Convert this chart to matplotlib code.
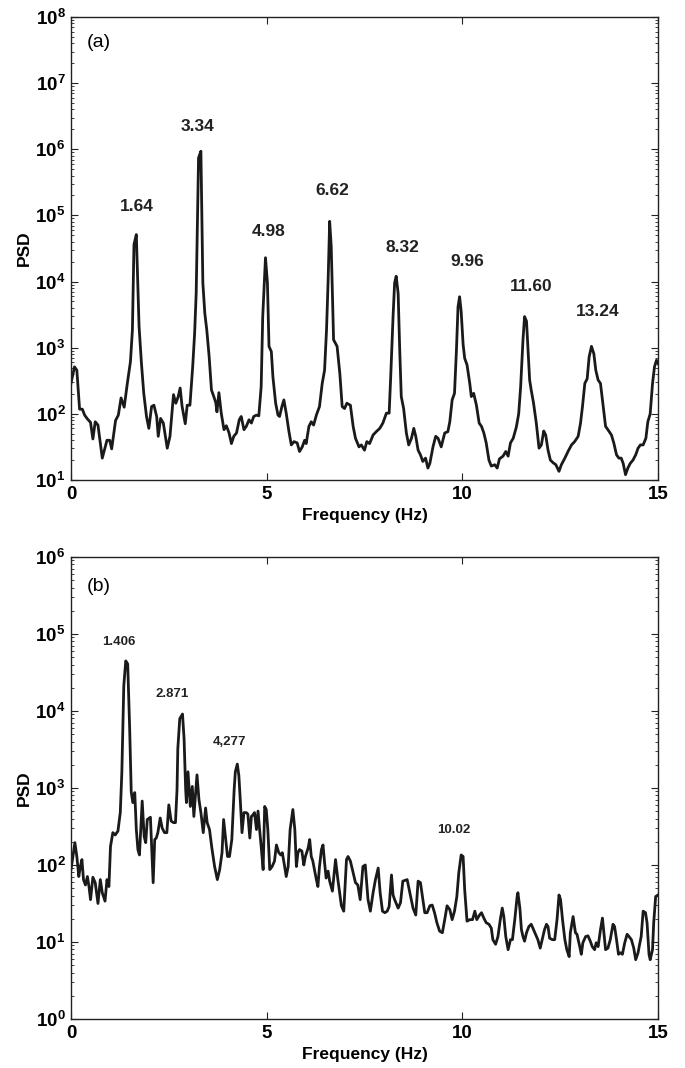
import numpy as np
import matplotlib
matplotlib.use("Agg")
import matplotlib.pyplot as plt
from matplotlib.ticker import LogLocator, NullFormatter, FixedLocator

plt.rcParams['font.family'] = ['Liberation Sans', 'DejaVu Sans']
plt.rcParams['mathtext.fontset'] = 'custom'
plt.rcParams['mathtext.rm'] = 'Liberation Sans:bold'
plt.rcParams['mathtext.bf'] = 'Liberation Sans:bold'
plt.rcParams['mathtext.it'] = 'Liberation Sans:bold'

# ---------------- Panel (a) data: frequency (Hz) and log10(PSD) ----------------
freq_a = [0.00, 0.09, 0.15, 0.22, 0.29, 0.35, 0.41, 0.50, 0.56, 0.62, 0.69, 0.80, 0.92, 0.99,
          1.04, 1.14, 1.21, 1.28, 1.36, 1.44, 1.52, 1.57, 1.61, 1.67, 1.74, 1.80, 1.86, 1.93,
          1.99, 2.06, 2.12, 2.19, 2.23, 2.29, 2.36, 2.46, 2.53, 2.62, 2.68, 2.74, 2.79, 2.84,
          2.92, 2.97, 3.04, 3.11, 3.16, 3.20, 3.26, 3.32, 3.37, 3.42, 3.47, 3.53, 3.59, 3.65,
          3.70, 3.73, 3.78, 3.84, 3.91, 3.97, 4.04, 4.10, 4.16, 4.23, 4.30, 4.35, 4.42, 4.48,
          4.55, 4.61, 4.67, 4.74, 4.80, 4.86, 4.90, 4.97, 5.02, 5.06, 5.12, 5.16, 5.23, 5.29,
          5.33, 5.39, 5.44, 5.50, 5.57, 5.63, 5.70, 5.78, 5.84, 5.91, 5.97, 6.01, 6.08, 6.14,
          6.20, 6.27, 6.35, 6.42, 6.48, 6.53, 6.57, 6.61, 6.65, 6.71, 6.80, 6.87, 6.93, 6.99,
          7.05, 7.14, 7.21, 7.27, 7.36, 7.42, 7.50, 7.56, 7.63, 7.72, 7.80, 7.89, 7.97, 8.06,
          8.13, 8.17, 8.23, 8.27, 8.31, 8.36, 8.40, 8.44, 8.50, 8.57, 8.63, 8.70, 8.76, 8.81,
          8.87, 8.93, 8.99, 9.06, 9.12, 9.17, 9.25, 9.32, 9.38, 9.46, 9.55, 9.63, 9.68, 9.74,
          9.80, 9.85, 9.89, 9.93, 9.97, 10.02, 10.06, 10.12, 10.19, 10.23, 10.29, 10.36, 10.43,
          10.49, 10.55, 10.61, 10.68, 10.74, 10.83, 10.89, 10.95, 11.04, 11.11, 11.17, 11.23,
          11.30, 11.38, 11.44, 11.49, 11.55, 11.59, 11.64, 11.68, 11.72, 11.76, 11.82, 11.89,
          11.96, 12.02, 12.08, 12.13, 12.19, 12.25, 12.32, 12.39, 12.47, 12.53, 12.62, 12.70,
          12.79, 12.87, 12.96, 13.02, 13.07, 13.13, 13.19, 13.24, 13.30, 13.36, 13.41, 13.47,
          13.53, 13.60, 13.66, 13.72, 13.81, 13.87, 13.94, 14.00, 14.06, 14.11, 14.17, 14.23,
          14.29, 14.36, 14.43, 14.49, 14.55, 14.62, 14.69, 14.74, 14.80, 14.86, 14.91, 14.96, 15.00]
logpsd_a = [2.46, 2.71, 2.66, 2.07, 2.07, 1.98, 1.93, 1.87, 1.62, 1.88, 1.83, 1.33, 1.60, 1.60,
            1.47, 1.90, 1.98, 2.24, 2.10, 2.46, 2.79, 3.27, 4.56, 4.71, 3.32, 2.77, 2.31, 1.96,
            1.78, 2.11, 2.13, 1.96, 1.66, 1.93, 1.86, 1.48, 1.66, 2.29, 2.16, 2.26, 2.39, 2.11,
            1.85, 2.13, 2.13, 2.71, 3.22, 3.83, 5.87, 5.97, 3.98, 3.52, 3.27, 2.87, 2.36, 2.26,
            2.17, 2.03, 2.32, 2.01, 1.76, 1.82, 1.71, 1.55, 1.66, 1.71, 1.91, 1.96, 1.76, 1.81,
            1.91, 1.86, 1.96, 1.98, 1.97, 2.41, 3.47, 4.36, 3.98, 3.02, 2.94, 2.56, 2.16, 1.98,
            1.96, 2.11, 2.21, 2.01, 1.73, 1.53, 1.58, 1.56, 1.43, 1.50, 1.60, 1.55, 1.81, 1.88,
            1.83, 1.98, 2.11, 2.46, 2.66, 3.27, 4.00, 4.91, 4.53, 3.12, 3.02, 2.61, 2.11, 2.08,
            2.16, 2.13, 1.81, 1.63, 1.50, 1.53, 1.45, 1.58, 1.55, 1.68, 1.73, 1.78, 1.86, 2.01,
            2.01, 2.56, 3.47, 3.98, 4.08, 3.82, 2.97, 2.26, 2.08, 1.71, 1.53, 1.63, 1.78, 1.66,
            1.45, 1.38, 1.28, 1.33, 1.18, 1.25, 1.50, 1.66, 1.63, 1.50, 1.71, 1.73, 1.88, 2.21,
            2.31, 2.97, 3.62, 3.77, 3.55, 3.05, 2.84, 2.74, 2.46, 2.26, 2.31, 2.13, 1.86,
            1.81, 1.71, 1.56, 1.30, 1.21, 1.23, 1.18, 1.32, 1.36, 1.43, 1.36, 1.56,
            1.63, 1.80, 2.00, 2.41, 3.12, 3.47, 3.40, 2.96, 2.51, 2.36, 2.16, 1.86,
            1.48, 1.53, 1.74, 1.68, 1.45, 1.30, 1.26, 1.23, 1.13, 1.23, 1.33, 1.43,
            1.53, 1.58, 1.66, 1.86, 2.11, 2.46, 2.53, 2.86, 3.02, 2.91, 2.66, 2.51,
            2.46, 2.11, 1.81, 1.76, 1.68, 1.56, 1.38, 1.33, 1.33, 1.25, 1.08, 1.18,
            1.25, 1.30, 1.38, 1.48, 1.53, 1.53, 1.63, 1.88, 2.00, 2.46, 2.71, 2.81, 2.76]

peak_labels_a = ["1.64", "3.34", "4.98", "6.62", "8.32", "9.96", "11.60", "13.24"]
peak_label_x_a = [1.69, 3.24, 5.04, 6.69, 8.46, 10.12, 11.75, 13.47]
peak_label_logy_a = [5.13, 6.34, 4.75, 5.37, 4.52, 4.30, 3.93, 3.55]

# ---------------- Panel (b) data ----------------
freq_b = [0.00, 0.05, 0.10, 0.15, 0.20, 0.24, 0.28, 0.32, 0.37, 0.42, 0.46, 0.50, 0.56, 0.62,
          0.69, 0.75, 0.80, 0.87, 0.92, 0.97, 1.01, 1.07, 1.13, 1.20, 1.26, 1.30, 1.35, 1.40,
          1.45, 1.50, 1.54, 1.58, 1.63, 1.67, 1.71, 1.75, 1.80, 1.82, 1.87, 1.91, 1.95, 2.03,
          2.10, 2.14, 2.18, 2.22, 2.28, 2.33, 2.39, 2.45, 2.50, 2.56, 2.62, 2.67, 2.71, 2.73,
          2.78, 2.85, 2.89, 2.93, 2.95, 2.99, 3.05, 3.10, 3.14, 3.22, 3.27, 3.32, 3.38, 3.44,
          3.48, 3.54, 3.60, 3.67, 3.74, 3.80, 3.86, 3.90, 3.95, 4.00, 4.05, 4.11, 4.17, 4.20,
          4.25, 4.29, 4.33, 4.37, 4.42, 4.48, 4.52, 4.57, 4.61, 4.65, 4.69, 4.74, 4.78, 4.82,
          4.86, 4.91, 4.95, 4.99, 5.03, 5.08, 5.14, 5.20, 5.25, 5.31, 5.36, 5.40, 5.46, 5.50,
          5.55, 5.60, 5.67, 5.72, 5.76, 5.80, 5.84, 5.90, 5.95, 5.99, 6.06, 6.10, 6.14, 6.18,
          6.23, 6.27, 6.31, 6.35, 6.40, 6.44, 6.48, 6.52, 6.57, 6.61,
          6.68, 6.76, 6.82, 6.91, 6.97, 7.04, 7.08, 7.14, 7.21, 7.27, 7.33, 7.39, 7.46, 7.52,
          7.59, 7.65, 7.72, 7.78, 7.85, 7.90, 7.96, 8.02, 8.08, 8.13, 8.19, 8.23, 8.27, 8.36,
          8.42, 8.48, 8.59, 8.65, 8.74, 8.81, 8.87, 8.93, 8.98, 9.04, 9.10, 9.17, 9.23, 9.29,
          9.35, 9.42, 9.49, 9.55, 9.61, 9.68, 9.74, 9.80, 9.86, 9.91, 9.97, 10.02, 10.06, 10.12,
          10.19, 10.26, 10.32, 10.37, 10.44, 10.49, 10.55, 10.61, 10.68, 10.74, 10.78, 10.85,
          10.91, 10.97, 11.02, 11.06, 11.11, 11.17, 11.23, 11.28, 11.34, 11.40, 11.42, 11.47,
          11.51, 11.55, 11.59, 11.64, 11.70, 11.76, 11.82, 11.87, 11.93, 11.99, 12.04, 12.10,
          12.15, 12.19, 12.23, 12.30, 12.36, 12.42, 12.47, 12.51, 12.56, 12.62, 12.67, 12.73,
          12.76, 12.83, 12.89, 12.93, 13.00, 13.04, 13.08, 13.15, 13.21, 13.27, 13.32, 13.38,
          13.42, 13.47, 13.53, 13.58, 13.61, 13.66, 13.72, 13.78, 13.85, 13.89, 13.94, 13.99,
          14.04, 14.09, 14.15, 14.21, 14.26, 14.32, 14.38, 14.43, 14.49, 14.53, 14.57, 14.62,
          14.68, 14.72, 14.77, 14.80, 14.86, 14.89, 14.94, 15.00]
logpsd_b = [1.94, 2.11, 2.29, 2.11, 1.85, 1.98, 2.07, 1.81, 1.74, 1.85, 1.72, 1.55, 1.84, 1.77,
            1.50, 1.81, 1.64, 1.53, 1.81, 1.72, 2.24, 2.42, 2.39, 2.44, 2.68, 3.20, 4.33, 4.65,
            4.61, 3.77, 2.95, 2.81, 2.94, 2.46, 2.20, 2.13, 2.63, 2.83, 2.37, 2.29, 2.59, 2.62,
            1.77, 2.33, 2.35, 2.42, 2.61, 2.48, 2.42, 2.42, 2.78, 2.57, 2.55, 2.55, 2.98, 3.51,
            3.90, 3.96, 3.64, 2.99, 2.81, 3.21, 2.76, 3.02, 2.63, 3.17, 2.85, 2.68, 2.42, 2.74,
            2.55, 2.46, 2.22, 1.98, 1.81, 1.94, 2.16, 2.59, 2.35, 2.11, 2.11, 2.33, 2.98, 3.21,
            3.31, 3.16, 2.81, 2.42, 2.68, 2.68, 2.66, 2.35, 2.63, 2.65, 2.68, 2.46, 2.70, 2.46,
            2.24, 1.94, 2.76, 2.72, 2.46, 1.94, 1.98, 2.05, 2.26, 2.16, 2.13, 2.16, 1.98, 1.85,
            1.98, 2.46, 2.72, 2.46, 1.98, 2.16, 2.20, 2.18, 2.00, 2.11, 2.22, 2.33, 2.11, 2.05,
            1.92, 1.81, 1.72, 1.98, 2.20, 2.26, 2.03, 1.83, 1.92, 1.79,
            1.66, 2.07, 1.81, 1.47, 1.40, 2.07, 2.11, 2.05, 1.90, 1.77, 1.74, 1.55, 1.98, 2.00,
            1.55, 1.40, 1.64, 1.81, 1.96, 1.64, 1.40, 1.38, 1.40, 1.46, 1.87, 1.61, 1.55, 1.44,
            1.51, 1.79, 1.81, 1.66, 1.44, 1.35, 1.79, 1.77, 1.59, 1.38, 1.38, 1.47, 1.48, 1.38,
            1.25, 1.14, 1.12, 1.29, 1.47, 1.42, 1.29, 1.40, 1.59, 1.90, 2.13, 2.11, 1.68, 1.27,
            1.29, 1.29, 1.40, 1.29, 1.35, 1.38, 1.31, 1.25, 1.23, 1.18, 1.03, 0.97,
            1.07, 1.29, 1.44, 1.33, 1.07, 0.90, 1.03, 1.03, 1.29, 1.59, 1.64, 1.44,
            1.16, 1.07, 1.01, 1.12, 1.20, 1.23, 1.16, 1.10, 1.03, 0.92, 1.03, 1.16,
            1.23, 1.20, 1.05, 1.03, 1.03, 1.29, 1.61, 1.55, 1.29, 1.03, 0.90, 0.81,
            1.12, 1.33, 1.12, 1.10, 0.94, 0.84, 0.99, 1.07, 1.08, 1.01, 0.94, 0.90,
            0.99, 0.94, 1.16, 1.31, 1.16, 0.90, 0.92, 1.03, 1.23, 1.20, 1.03, 0.84,
            0.86, 0.84, 0.99, 1.10, 1.07, 1.03, 0.92, 0.77, 0.86, 0.97, 1.07, 1.40,
            1.38, 1.25, 0.84, 0.77, 0.90, 1.25, 1.59, 1.61]

peak_labels_b = ["1.406", "2.871", "4,277", "10.02"]
peak_label_x_b = [1.23, 2.59, 4.06, 9.79]
peak_label_logy_b = [4.90, 4.22, 3.60, 2.46]

x_ticks = [0, 5, 10, 15]
y_exp_a = [1, 2, 3, 4, 5, 6, 7, 8]
y_exp_b = [0, 1, 2, 3, 4, 5, 6]

fig = plt.figure(figsize=(6.85, 10.68), dpi=100)
ax_a = fig.add_axes([0.1036, 0.5506, 0.857, 0.4335])
ax_b = fig.add_axes([0.1036, 0.0459, 0.857, 0.4326])

line_color = '#1a1a1a'


def style(ax, exps, panel):
    ax.set_yscale('log')
    ax.set_xlim(0, 15)
    ax.set_ylim(10.0 ** exps[0], 10.0 ** exps[-1])
    ax.set_xticks(x_ticks)
    ax.set_xticklabels([str(t) for t in x_ticks], fontsize=13.5, fontweight='bold')
    ax.set_yticks([10.0 ** e for e in exps])
    ax.set_yticklabels([r'$\mathbf{10^{%d}}$' % e for e in exps], fontsize=13.5)
    ax.yaxis.set_minor_locator(LogLocator(base=10, subs=np.arange(2, 10), numticks=20))
    ax.yaxis.set_minor_formatter(NullFormatter())
    ax.xaxis.set_minor_locator(FixedLocator([]))
    ax.tick_params(which='both', direction='in', top=True, right=True, color='#222222')
    ax.tick_params(which='major', length=5, width=0.8, pad=4)
    ax.tick_params(which='minor', length=2.5, width=0.6)
    for s in ax.spines.values():
        s.set_linewidth(1.0)
        s.set_color('#222222')
    ax.set_xlabel('Frequency (Hz)', fontsize=12.5, fontweight='bold', labelpad=4)
    ax.set_ylabel('PSD', fontsize=12.5, fontweight='bold', labelpad=2)
    ax.text(0.72, 10.0 ** (exps[-1] - 0.38), panel, fontsize=14, ha='center', va='center')


style(ax_a, y_exp_a, '(a)')
style(ax_b, y_exp_b, '(b)')

ax_a.plot(freq_a, 10.0 ** np.array(logpsd_a), color=line_color, lw=2.0)
ax_b.plot(freq_b, 10.0 ** np.array(logpsd_b), color=line_color, lw=2.0)

for lab, xx, yy in zip(peak_labels_a, peak_label_x_a, peak_label_logy_a):
    ax_a.text(xx, 10.0 ** yy, lab, fontsize=12.5, fontweight='bold', ha='center', va='center',
              color='#222222')
for lab, xx, yy in zip(peak_labels_b, peak_label_x_b, peak_label_logy_b):
    ax_b.text(xx, 10.0 ** yy, lab, fontsize=9.5, fontweight='bold', ha='center', va='center',
              color='#222222')

fig.savefig('out.png', dpi=100)
